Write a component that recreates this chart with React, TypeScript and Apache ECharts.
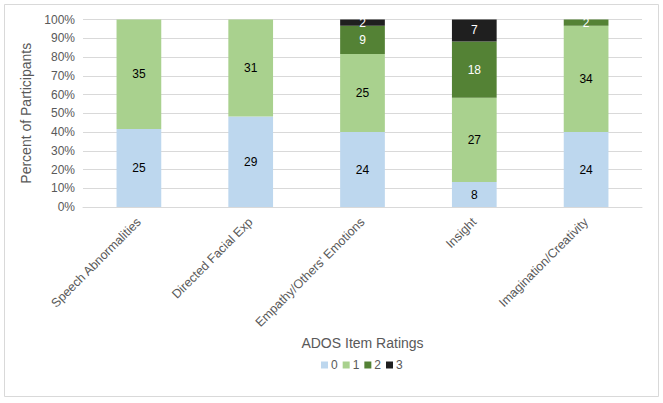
import React, { useEffect, useRef } from "react";
import * as echarts from "echarts";

const categories = [
  "Speech Abnormalities",
  "Directed Facial Exp",
  "Empathy/Others' Emotions",
  "Insight",
  "Imagination/Creativity",
];
const seriesNames = ["0", "1", "2", "3"];
const rating0 = [25, 29, 24, 8, 24];
const rating1 = [35, 31, 25, 27, 34];
const rating2 = [0, 0, 9, 18, 2];
const rating3 = [0, 0, 2, 7, 0];
const yTicks = [0, 10, 20, 30, 40, 50, 60, 70, 80, 90, 100];

const colors = ["#BDD7EE", "#A9D18E", "#548235", "#1F1F1F"];
const labelColors = ["#000000", "#000000", "#FFFFFF", "#FFFFFF"];

export default function App() {
  const ref = useRef<HTMLDivElement>(null);
  useEffect(() => {
    if (!ref.current) return;
    const chart = echarts.init(ref.current, undefined, { renderer: "svg" });
    const all = [rating0, rating1, rating2, rating3];
    const totals = categories.map((_, i) => all.reduce((s, arr) => s + arr[i], 0));
    const font = "Liberation Sans, Arial, sans-serif";
    chart.setOption({
      animation: false,
      textStyle: { fontFamily: font },
      graphic: [
        {
          type: "rect",
          shape: { x: 4.5, y: 4.5, width: 654, height: 392 },
          style: { fill: "none", stroke: "#D9D9D9", lineWidth: 1 },
          silent: true,
        },
      ],
      grid: { left: 83, right: 21, top: 19.5, bottom: 196, containLabel: false },
      legend: {
        data: seriesNames,
        top: 354,
        left: 316,
        itemWidth: 7,
        itemHeight: 7,
        itemGap: 5,
        icon: "rect",
        textStyle: { fontSize: 12, color: "#595959", fontFamily: font, padding: [0, 0, 0, -2] },
      },
      xAxis: {
        type: "category",
        data: categories,
        name: "ADOS Item Ratings",
        nameLocation: "middle",
        nameGap: 129,
        nameTextStyle: { fontSize: 14, color: "#595959", fontFamily: font },
        axisLine: { lineStyle: { color: "#D9D9D9" } },
        axisTick: { show: false },
        axisLabel: { rotate: 45, fontSize: 12.5, color: "#595959", margin: 13, interval: 0, fontFamily: font },
      },
      yAxis: {
        type: "value",
        min: 0,
        max: yTicks[yTicks.length - 1],
        interval: yTicks[1] - yTicks[0],
        name: "Percent of Participants",
        nameLocation: "middle",
        nameGap: 44,
        nameTextStyle: { fontSize: 14, color: "#595959", fontFamily: font },
        axisLabel: { formatter: "{value}%", fontSize: 12, color: "#595959", margin: 8, fontFamily: font },
        splitLine: { lineStyle: { color: "#D9D9D9" } },
        axisLine: { show: false },
        axisTick: { show: false },
      },
      series: all.map((arr, si) => ({
        name: seriesNames[si],
        type: "bar",
        stack: "total",
        barWidth: "40%",
        itemStyle: { color: colors[si] },
        data: arr.map((v, i) => ({ value: (v / totals[i]) * 100, count: v })),
        label: {
          show: true,
          position: "inside",
          fontSize: 12,
          fontFamily: font,
          color: labelColors[si],
          formatter: (p: any) => (p.data.count ? String(p.data.count) : ""),
        },
      })),
    });
    return () => chart.dispose();
  }, []);
  return (
    <div
      ref={ref}
      style={{ position: "fixed", left: 0, top: 0, width: 663, height: 403, background: "#fff" }}
    />
  );
}
